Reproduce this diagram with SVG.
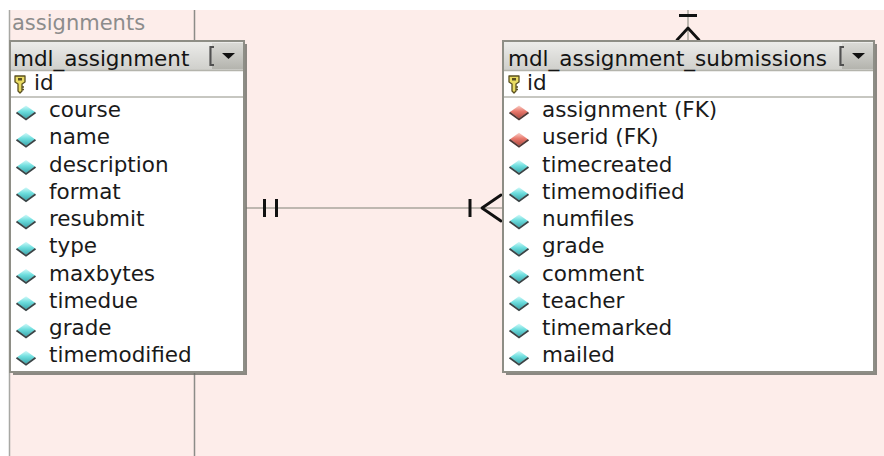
<svg xmlns="http://www.w3.org/2000/svg" width="884" height="456" viewBox="0 0 884 456">
  <defs>
    <style>
      .area-label { font-family: "DejaVu Sans", Verdana, sans-serif; font-size: 21px; fill: #8c8c8c; }
      .title { font-family: "DejaVu Sans", Verdana, sans-serif; font-size: 21.5px; fill: #141414; }
      .field { font-family: "DejaVu Sans", Verdana, sans-serif; font-size: 21.5px; fill: #1a1a1a; }
      .frame { fill: #ffffff; stroke: #8e8e86; stroke-width: 2; }
      .shadow { fill: #6e6e68; opacity: 0.8; }
      .sep { stroke: #b4b4ac; stroke-width: 1.5; }
      .rel { stroke: #a8a49c; stroke-width: 1.5; fill: none; }
      .mark { stroke: #111111; stroke-width: 3; fill: none; stroke-linecap: butt; }
      .crow { stroke: #111111; stroke-width: 2.8; fill: none; stroke-linecap: round; stroke-linejoin: round; }
      .bracket { stroke: #505050; stroke-width: 2.2; fill: none; }
    </style>
    <linearGradient id="hdr" x1="0" y1="0" x2="0" y2="1">
      <stop offset="0" stop-color="#ececea"/>
      <stop offset="1" stop-color="#cfcfcb"/>
    </linearGradient>
    <linearGradient id="btn" x1="0" y1="0" x2="0" y2="1">
      <stop offset="0" stop-color="#dadad6"/>
      <stop offset="1" stop-color="#b4b4ae"/>
    </linearGradient>
    <linearGradient id="cyan" x1="0" y1="0" x2="0" y2="1">
      <stop offset="0" stop-color="#d4fafa"/>
      <stop offset="0.45" stop-color="#6edede"/>
      <stop offset="1" stop-color="#3aa6ac"/>
    </linearGradient>
    <linearGradient id="red" x1="0" y1="0" x2="0" y2="1">
      <stop offset="0" stop-color="#fad0c8"/>
      <stop offset="0.45" stop-color="#e8786c"/>
      <stop offset="1" stop-color="#b04a40"/>
    </linearGradient>
    <!-- column icons -->
    <g id="col">
      <polygon points="-9,0 0,-6.5 9,0 0,6.5" fill="url(#cyan)"/>
      <polyline points="-9.5,0.5 0,7.5 9.5,0.5" fill="none" stroke="#3a4446" stroke-width="1.8"/>
    </g>
    <g id="fk">
      <polygon points="-9,0 0,-6.5 9,0 0,6.5" fill="url(#red)"/>
      <polyline points="-9.5,0.5 0,7.5 9.5,0.5" fill="none" stroke="#4e3634" stroke-width="1.8"/>
    </g>
    <g id="key">
      <path d="M-5,-7 H5 V-1 L2,1 V8 L0,10 L-2,8 V1 L-5,-1 Z" fill="#eadc62" stroke="#5a5020" stroke-width="1.3" stroke-linejoin="round"/>
      <rect x="-2" y="-5" width="4" height="2.5" fill="#5a5020"/>
      <line x1="2" y1="4" x2="4" y2="4" stroke="#5a5020" stroke-width="1.4"/>
      <line x1="2" y1="6.5" x2="4" y2="6.5" stroke="#5a5020" stroke-width="1.4"/>
    </g>
  </defs>

  <!-- canvas -->
  <rect x="0" y="0" width="884" height="456" fill="#ffffff"/>
  <rect x="9" y="10" width="875" height="446" fill="#fdedea"/>
  <line x1="9.5" y1="10" x2="9.5" y2="456" stroke="#a8a8a4" stroke-width="1.5"/>

  <!-- subject area "assignments" -->
  <g id="area-assignments">
    <line x1="194.5" y1="10" x2="194.5" y2="456" stroke="#8c8c88" stroke-width="1.5"/>
    <text class="area-label" x="12" y="30">assignments</text>
  </g>

  <!-- relationships -->
  <g id="connectors">
    <!-- mdl_assignment (one) to mdl_assignment_submissions (many) -->
    <line class="rel" x1="246" y1="208" x2="502" y2="208"/>
    <line class="mark" x1="264.5" y1="199" x2="264.5" y2="217"/>
    <line class="mark" x1="276.5" y1="199" x2="276.5" y2="217"/>
    <line class="mark" x1="470" y1="199" x2="470" y2="217"/>
    <polyline class="crow" points="501,195 482,208 501,221"/>
    <!-- incoming relation at top of mdl_assignment_submissions -->
    <line class="rel" x1="688" y1="10" x2="688" y2="41"/>
    <line class="mark" x1="679" y1="15.5" x2="697" y2="15.5"/>
    <polyline class="crow" points="677,40 688,28 699,40"/>
  </g>

  <!-- table mdl_assignment -->
  <g id="mdl_assignment">
    <rect class="shadow" x="13" y="44" width="234" height="331"/>
    <rect class="frame" x="10" y="41" width="234" height="331"/>
    <rect x="11" y="42" width="232" height="28" fill="url(#hdr)"/>
    <rect x="212" y="43" width="31" height="26" fill="url(#btn)"/>
    <path class="bracket" d="M214,47 H210.5 V65 H214"/>
    <polygon points="222,53 235,53 228.5,59" fill="#111"/>
    <line class="sep" x1="11" y1="70.5" x2="243" y2="70.5"/>
    <line class="sep" x1="11" y1="97" x2="243" y2="97"/>
    <text class="title" x="13" y="66">mdl_assignment</text>
    <use href="#key" x="20" y="83"/>
    <text class="field" x="34" y="90">id</text>
    <use href="#col" x="26" y="112"/><text class="field" x="49" y="117">course</text>
    <use href="#col" x="26" y="139.25"/><text class="field" x="49" y="144.25">name</text>
    <use href="#col" x="26" y="166.5"/><text class="field" x="49" y="171.5">description</text>
    <use href="#col" x="26" y="193.75"/><text class="field" x="49" y="198.75">format</text>
    <use href="#col" x="26" y="221"/><text class="field" x="49" y="226">resubmit</text>
    <use href="#col" x="26" y="248.25"/><text class="field" x="49" y="253.25">type</text>
    <use href="#col" x="26" y="275.5"/><text class="field" x="49" y="280.5">maxbytes</text>
    <use href="#col" x="26" y="302.75"/><text class="field" x="49" y="307.75">timedue</text>
    <use href="#col" x="26" y="330"/><text class="field" x="49" y="335">grade</text>
    <use href="#col" x="26" y="357.25"/><text class="field" x="49" y="362.25">timemodified</text>
  </g>

  <!-- table mdl_assignment_submissions -->
  <g id="mdl_assignment_submissions">
    <rect class="shadow" x="506" y="44" width="371" height="331"/>
    <rect class="frame" x="503" y="41" width="371" height="331"/>
    <rect x="504" y="42" width="369" height="28" fill="url(#hdr)"/>
    <rect x="842" y="43" width="31" height="26" fill="url(#btn)"/>
    <path class="bracket" d="M844,47 H840.5 V65 H844"/>
    <polygon points="852,53 865,53 858.5,59" fill="#111"/>
    <line class="sep" x1="504" y1="70.5" x2="873" y2="70.5"/>
    <line class="sep" x1="504" y1="97" x2="873" y2="97"/>
    <text class="title" x="508" y="66">mdl_assignment_submissions</text>
    <use href="#key" x="514" y="83"/>
    <text class="field" x="527" y="90">id</text>
    <use href="#fk" x="519" y="112"/><text class="field" x="542" y="117">assignment (FK)</text>
    <use href="#fk" x="519" y="139.25"/><text class="field" x="542" y="144.25">userid (FK)</text>
    <use href="#col" x="519" y="166.5"/><text class="field" x="542" y="171.5">timecreated</text>
    <use href="#col" x="519" y="193.75"/><text class="field" x="542" y="198.75">timemodified</text>
    <use href="#col" x="519" y="221"/><text class="field" x="542" y="226">numfiles</text>
    <use href="#col" x="519" y="248.25"/><text class="field" x="542" y="253.25">grade</text>
    <use href="#col" x="519" y="275.5"/><text class="field" x="542" y="280.5">comment</text>
    <use href="#col" x="519" y="302.75"/><text class="field" x="542" y="307.75">teacher</text>
    <use href="#col" x="519" y="330"/><text class="field" x="542" y="335">timemarked</text>
    <use href="#col" x="519" y="357.25"/><text class="field" x="542" y="362.25">mailed</text>
  </g>
</svg>
